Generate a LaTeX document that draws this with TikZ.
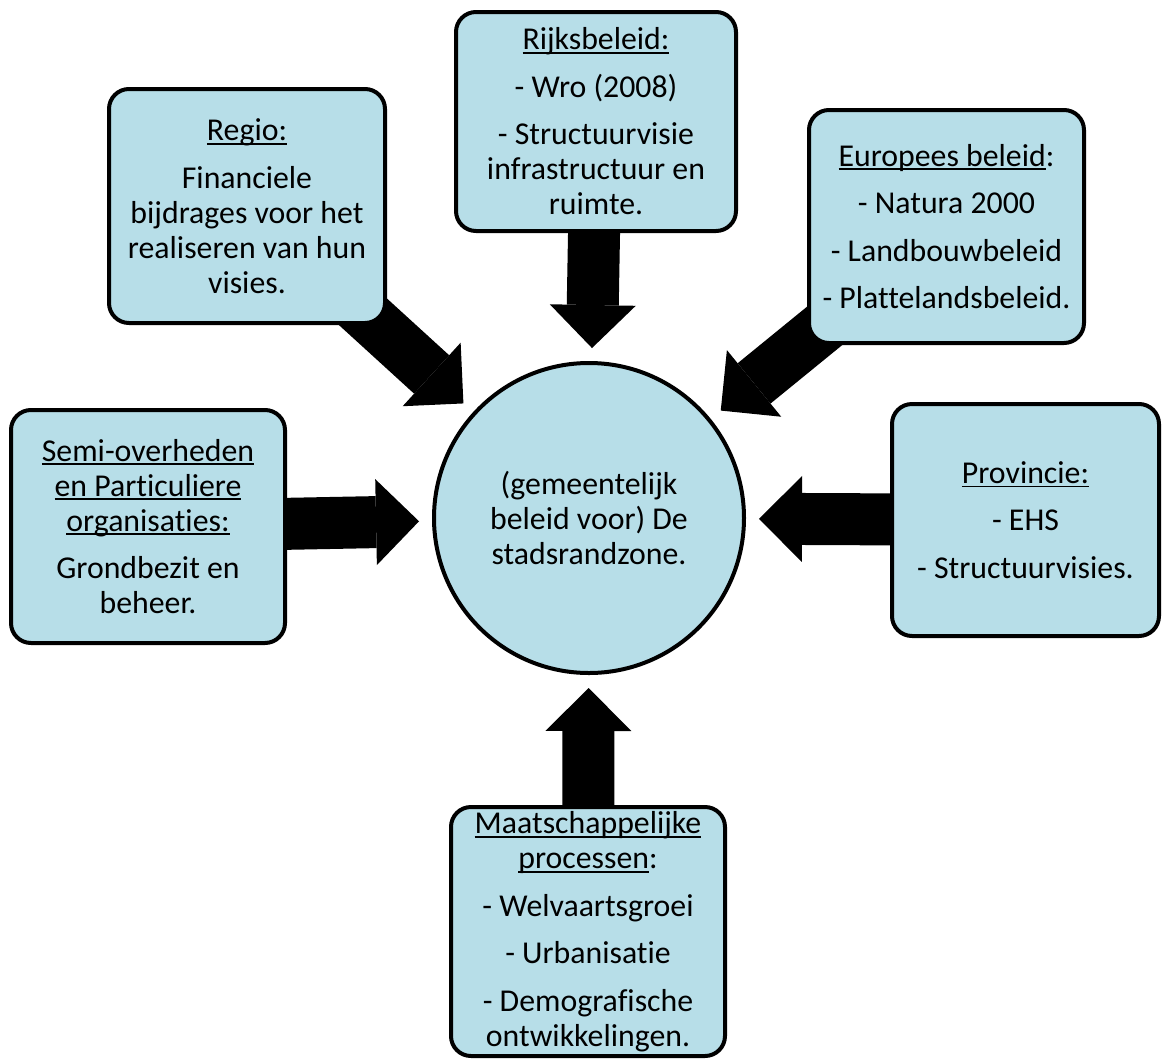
\documentclass[tikz,border=0pt]{standalone}
\usepackage{fontspec}
\setmainfont{Carlito}[Ligatures=NoCommon]
\usetikzlibrary{arrows.meta,backgrounds}
\definecolor{boxblue}{HTML}{B7DEE8}
% underline drawn a few points under the baseline
\newcommand\ulbar[1]{\setbox0\hbox{#1}\rlap{\rule[-4pt]{\wd0}{1.8pt}}\box0}
\tikzset{
  x=1pt, y=-1pt,
  box/.style={draw=black, line width=4pt, fill=boxblue, rounded corners=20pt,
    align=center, inner sep=0pt, font=\fontsize{31.8}{35}\selectfont},
  hubnode/.style={circle, draw=black, line width=4pt, fill=boxblue,
    align=center, inner sep=0pt, minimum size=310pt, font=\fontsize{31.8}{35}\selectfont},
  blockarrow/.style={line width=52pt, draw=black,
    -{Triangle[length=43pt,width=86pt,line width=0pt]}, shorten >=13pt}
}
\begin{document}
\begin{tikzpicture}
  \useasboundingbox (0,0) rectangle (1163,1061);

  \node[hubnode] (hub) at (589,518) {(gemeentelijk\\ beleid voor) De\\ stadsrandzone.};

  \node[box, minimum width=276pt, minimum height=234pt] (regio) at (247,206)
    {\ulbar{Regio:}\\[12.5pt] Financiele\\ bijdrages voor het\\ realiseren van hun\\ visies.};

  \node[box, minimum width=280pt, minimum height=219pt] (rijk) at (596,121.5)
    {\ulbar{Rijksbeleid:}\\[12.5pt] - Wro (2008)\\[12.5pt] - Structuurvisie\\ infrastructuur en\\ ruimte.};

  \node[box, minimum width=275pt, minimum height=233pt] (europa) at (946.5,226.5)
    {\ulbar{Europees beleid}:\\[12.5pt] - Natura 2000\\[12.5pt] - Landbouwbeleid\\[12.5pt] - Plattelandsbeleid.};

  \node[box, minimum width=274pt, minimum height=233pt] (semi) at (148,526.5)
    {\ulbar{Semi-overheden}\\ \ulbar{en Particuliere}\\ \ulbar{organisaties:}\\[12.5pt] Grondbezit en\\ beheer.};

  \node[box, minimum width=267pt, minimum height=232pt] (prov) at (1025.5,520)
    {\ulbar{Provincie:}\\[12.5pt] - EHS\\[12.5pt] - Structuurvisies.};

  \node[box, minimum width=274pt, minimum height=249pt] (maat) at (588,931.5)
    {\ulbar{Maatschappelijke}\\ \ulbar{processen}:\\[12.5pt] - Welvaartsgroei\\[12.5pt] - Urbanisatie\\[12.5pt] - Demografische\\ ontwikkelingen.};

  % white page, then thick block arrows running from under each box towards the circle
  \begin{pgfonlayer}{background}
    \fill[white] (0,0) rectangle (1163,1061);
    \draw[blockarrow] (regio.center) -- (hub);
    \draw[blockarrow] (rijk.center) -- (hub);
    \draw[blockarrow] (europa.center) -- (hub);
    \draw[blockarrow] (semi.center) -- (hub);
    \draw[blockarrow] (prov.center) -- (hub);
    \draw[blockarrow] (maat.center) -- (hub);
  \end{pgfonlayer}
\end{tikzpicture}
\end{document}
